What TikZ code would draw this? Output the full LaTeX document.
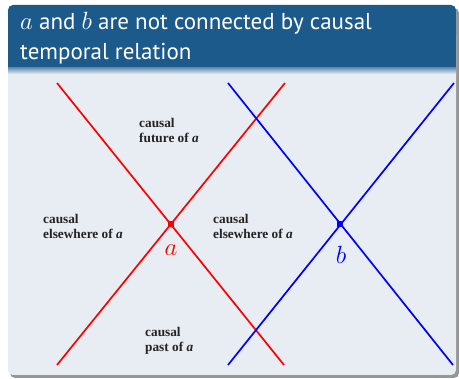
\documentclass[tikz,border=0pt]{standalone}
\usepackage{fontspec}
\setsansfont{PT Sans}
\newfontfamily\lblfont{Liberation Serif}
\usetikzlibrary{calc}
\definecolor{titlebg}{RGB}{28,90,140}
\definecolor{bodybg}{RGB}{232,236,243}
\definecolor{shadowc}{RGB}{150,150,150}
\definecolor{lbl}{RGB}{35,35,35}
\tikzset{
  lbltext/.style={font=\lblfont\fontsize{13.3}{15.5}\selectfont\bfseries, text=lbl, align=left, anchor=north west, inner sep=0pt},
  titletext/.style={anchor=base west, text=white, font=\sffamily\fontsize{23}{30}\selectfont, inner sep=0pt},
  redline/.style={draw=red, line width=1.7pt},
  blueline/.style={draw=blue, line width=1.7pt},
  dot/.style={minimum size=6pt, inner sep=0pt, fill=#1},
}
\begin{document}
\begin{tikzpicture}[x=1pt,y=-1pt]
\useasboundingbox (0,0) rectangle (459,379);
% shadow
\fill[shadowc, rounded corners=5pt] (10,8) rectangle (459,378);
% body
\fill[bodybg, rounded corners=5pt] (8,5) rectangle (456,375);
% title bar
\fill[titlebg, rounded corners=5pt] (8,5) rectangle (456,40);
\fill[titlebg] (8,30) rectangle (456,68);
\shade[top color=titlebg!60!bodybg, bottom color=bodybg] (8,68) rectangle (456,74);
\node[titletext] (title1) at (20,30) {$a$ and $b$ are not connected by causal};
\node[titletext] (title2) at (20,60) {temporal relation};
% event nodes
\coordinate (a) at (171,224);
\coordinate (b) at (340,224);
\coordinate (a1) at (57,83);
\coordinate (a2) at (285,83);
\coordinate (a3) at (57,365);
\coordinate (a4) at (284,365);
\coordinate (b1) at (228,83);
\coordinate (b2) at (454,83);
\coordinate (b3) at (228,365);
\coordinate (b4) at (453,365);
\draw[redline] (a1) -- (a4);
\draw[redline] (a2) -- (a3);
\draw[blueline] (b1) -- (b4);
\draw[blueline] (b2) -- (b3);
\node[dot=red] (adot) at (a) {};
\node[dot=blue] (bdot) at (b) {};
\node[text=red, font=\fontsize{24}{24}\selectfont] (alab) at (171,250) {$a$};
\node[text=blue, font=\fontsize{24}{24}\selectfont] (blab) at (341,255) {$b$};
% region labels
\node[lbltext] (fut) at (139,118) {causal\\future of \textit{a}};
\node[lbltext] (elL) at (43,214) {causal\\elsewhere of \textit{a}};
\node[lbltext] (elR) at (213,214) {causal\\elsewhere of \textit{a}};
\node[lbltext] (past) at (145,327) {causal\\past of \textit{a}};
\end{tikzpicture}
\end{document}
